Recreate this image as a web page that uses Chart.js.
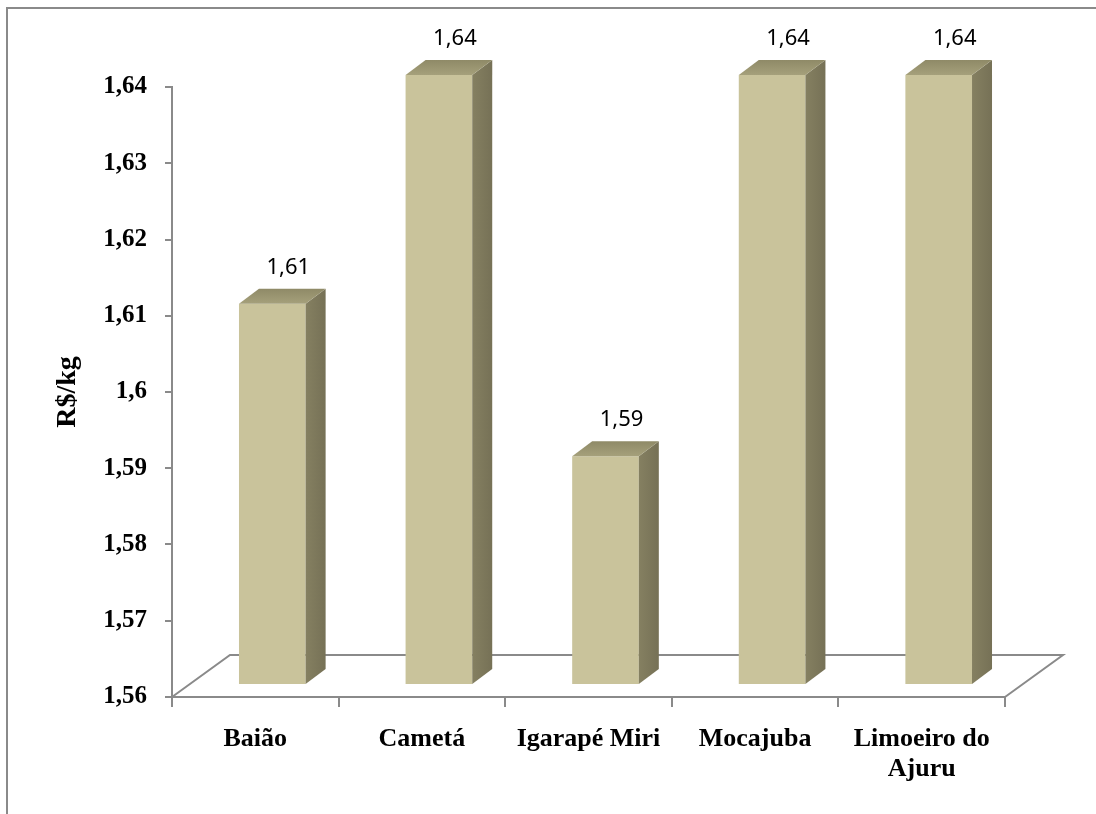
<!DOCTYPE html>
<html>
<head>
<meta charset="utf-8">
<script src="https://cdn.jsdelivr.net/npm/chart.js@4"></script>
<style>
  body { margin: 0; background: #fff; }
</style>
</head>
<body>
<canvas id="myChart" width="1096" height="814"></canvas>
<script>
const cities = ['Baião', 'Cametá', 'Igarapé Miri', 'Mocajuba', ['Limoeiro do', 'Ajuru']];
const prices = [1.61, 1.64, 1.59, 1.64, 1.64];
const priceMin = 1.56;
const priceMax = 1.64;
const priceStep = 0.01;

const fmt = v => Number(v.toFixed(2)).toString().replace('.', ',');

const LINE = '#8a8a8a';
// fake 3d: bar shift into the floor and the depth of each box
const SHIFT_X = 17, SHIFT_Y = -12;
const DEPTH_X = 20, DEPTH_Y = -15;
const FLOOR_X = 58, FLOOR_Y = -42;

const bars3d = {
  id: 'bars3d',
  beforeDraw(chart) {
    const c = chart.ctx;
    c.save();
    c.strokeStyle = LINE;
    c.lineWidth = 2;
    c.beginPath();
    c.moveTo(7, 814); c.lineTo(7, 8); c.lineTo(1096, 8);
    c.stroke();
    c.restore();
  },
  beforeDatasetsDraw(chart) {
    const c = chart.ctx;
    const {left, right, bottom} = chart.chartArea;
    c.save();
    c.strokeStyle = LINE;
    c.lineWidth = 2;
    c.beginPath();
    c.moveTo(left, bottom);
    c.lineTo(left + FLOOR_X, bottom + FLOOR_Y);
    c.lineTo(right + FLOOR_X, bottom + FLOOR_Y);
    c.lineTo(right, bottom);
    c.stroke();
    c.restore();
    c.save();
    c.translate(SHIFT_X, SHIFT_Y);
  },
  afterDatasetsDraw(chart) {
    const c = chart.ctx;
    const bars = chart.getDatasetMeta(0).data;
    bars.forEach(bar => {
      const l = bar.x - bar.width / 2, r = bar.x + bar.width / 2;
      const t = bar.y, b = bar.base;
      // side face
      let g = c.createLinearGradient(r, 0, r + DEPTH_X, 0);
      g.addColorStop(0, '#858061');
      g.addColorStop(1, '#767156');
      c.fillStyle = g;
      c.beginPath();
      c.moveTo(r, t);
      c.lineTo(r + DEPTH_X, t + DEPTH_Y);
      c.lineTo(r + DEPTH_X, b + DEPTH_Y);
      c.lineTo(r, b);
      c.closePath();
      c.fill();
      // top face
      g = c.createLinearGradient(0, t, 0, t + DEPTH_Y);
      g.addColorStop(0, '#a5a07b');
      g.addColorStop(1, '#8f8a67');
      c.fillStyle = g;
      c.beginPath();
      c.moveTo(l, t);
      c.lineTo(l + DEPTH_X, t + DEPTH_Y);
      c.lineTo(r + DEPTH_X, t + DEPTH_Y);
      c.lineTo(r, t);
      c.closePath();
      c.fill();
    });
    c.restore();

    // value labels
    c.save();
    c.font = '22px "Noto Sans"';
    c.fillStyle = '#000';
    c.textAlign = 'center';
    c.textBaseline = 'alphabetic';
    bars.forEach((bar, i) => {
      c.fillText(fmt(prices[i]), bar.x + 33, bar.y - 42);
    });
    c.restore();
  }
};

const ctx = document.getElementById('myChart');
new Chart(ctx, {
  type: 'bar',
  data: {
    labels: cities,
    datasets: [{
      data: prices,
      base: priceMin,
      backgroundColor: '#c9c39b',
      borderWidth: 0,
      categoryPercentage: 1,
      barPercentage: 0.4,
      clip: false
    }]
  },
  options: {
    responsive: false,
    animation: false,
    layout: { padding: { left: 0, right: 91, top: 87, bottom: 0 } },
    plugins: {
      legend: { display: false },
      tooltip: { enabled: false }
    },
    scales: {
      x: {
        grid: { drawOnChartArea: false, offset: true, tickLength: 10, color: LINE, lineWidth: 2 },
        border: { color: LINE, width: 2 },
        ticks: {
          font: { family: 'Liberation Serif', size: 26, weight: 'bold', lineHeight: 1.15 },
          color: '#000',
          padding: 17,
          maxRotation: 0,
          autoSkip: false
        },
        afterFit: s => { s.height = 117; }
      },
      y: {
        min: priceMin,
        max: priceMax,
        grid: { drawOnChartArea: false, tickLength: 7, color: LINE, lineWidth: 2 },
        border: { color: LINE, width: 2 },
        ticks: {
          stepSize: priceStep,
          callback: v => fmt(v),
          font: { family: 'Liberation Serif', size: 25, weight: 'bold' },
          color: '#000',
          padding: 18
        },
        title: {
          display: true,
          text: 'R$/kg',
          font: { family: 'Liberation Serif', size: 28, weight: 'bold' },
          color: '#000',
          padding: { top: 51, bottom: 0 }
        },
        afterFit: s => { s.width = 172; }
      }
    }
  },
  plugins: [bars3d]
});
</script>
</body>
</html>
